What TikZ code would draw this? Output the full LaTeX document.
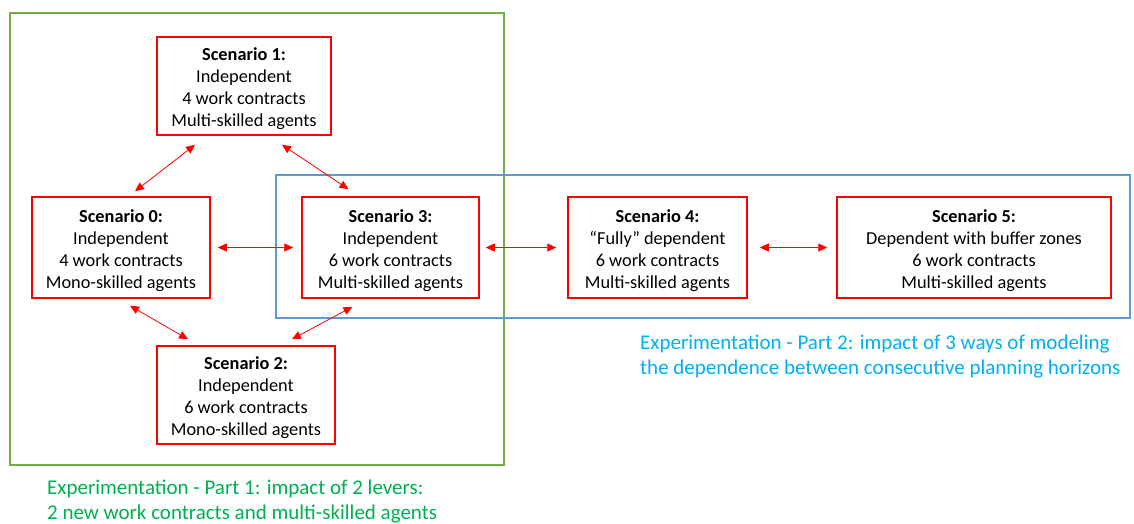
\documentclass[tikz,border=0pt]{standalone}
\usepackage{fontspec}
\setmainfont{Carlito}
\usetikzlibrary{arrows.meta}
\definecolor{boxred}{RGB}{255,0,0}
\definecolor{partgreen}{RGB}{112,173,71}
\definecolor{partblue}{RGB}{91,155,213}
\definecolor{textgreen}{RGB}{0,176,80}
\definecolor{textblue}{RGB}{0,176,240}
\begin{document}
\begin{tikzpicture}[x=1pt, y=-1pt,
    every node/.style={font=\fontsize{18.3}{22}\selectfont},
    scen/.style={draw=boxred, line width=1.5pt, align=center, inner sep=0pt},
    link/.style={{Triangle[length=9pt,width=8pt]}-{Triangle[length=9pt,width=8pt]}, boxred, line width=0.8pt},
    parttext/.style={anchor=west, align=left, inner sep=0pt, font=\fontsize{21}{25}\selectfont}]
    \useasboundingbox (0,0) rectangle (1134,523);

    % Part frames
    \draw[partgreen, line width=1.2pt] (10,13) rectangle (504,465);
    \draw[partblue, line width=1.2pt] (276,175) rectangle (1130,318);

    % Scenarios of part 1
    \node[scen, minimum width=174pt, minimum height=98pt] (s1) at (244,86)
      {\rule{0pt}{19pt}\textbf{Scenario 1:}\\ Independent\\ 4 work contracts\\ Multi-skilled agents};
    \node[scen, minimum width=178pt, minimum height=101pt] (s0) at (121,247.5)
      {\rule{0pt}{19pt}\textbf{Scenario 0:}\\ Independent\\ 4 work contracts\\ Mono-skilled agents};
    \node[scen, minimum width=178pt, minimum height=98pt] (s2) at (246,395)
      {\rule{0pt}{19pt}\textbf{Scenario 2:}\\ Independent\\ 6 work contracts\\ Mono-skilled agents};
    \node[scen, minimum width=177pt, minimum height=101pt] (s3) at (390.5,247.5)
      {\rule{0pt}{19pt}\textbf{Scenario 3:}\\ Independent\\ 6 work contracts\\ Multi-skilled agents};

    % Scenarios of part 2
    \node[scen, minimum width=179pt, minimum height=101pt] (s4) at (657.5,247.5)
      {\rule{0pt}{19pt}\textbf{Scenario 4:}\\ ``Fully'' dependent\\ 6 work contracts\\ Multi-skilled agents};
    \node[scen, minimum width=274pt, minimum height=101pt] (s5) at (974,247.5)
      {\rule{0pt}{19pt}\textbf{Scenario 5:}\\ Dependent with buffer zones\\ 6 work contracts\\ Multi-skilled agents};

    % Links
    \draw[link] ([xshift=-49pt,yshift=-9pt]s1.south) -- ([xshift=14pt,yshift=5pt]s0.north);
    \draw[link] ([xshift=38pt,yshift=-9pt]s1.south) -- ([xshift=-42pt,yshift=7pt]s3.north);
    \draw[link] ([xshift=7pt]s0.east) -- ([xshift=-8pt]s3.west);
    \draw[link] ([xshift=9pt,yshift=-7pt]s0.south) -- ([xshift=-58pt,yshift=6pt]s2.north);
    \draw[link] ([xshift=46pt,yshift=6pt]s2.north) -- ([xshift=-38pt,yshift=-8pt]s3.south);
    \draw[link] ([xshift=6pt]s3.east) -- ([xshift=-11pt]s4.west);
    \draw[link] ([xshift=12pt]s4.east) -- ([xshift=-9pt]s5.west);

    % Labels
    \node[parttext, text=textgreen] (part1) at (47,502)
      {Experimentation - Part 1: impact of 2 levers:\\ 2 new work contracts and multi-skilled agents};
    \node[parttext, text=textblue] (part2) at (640,357)
      {Experimentation - Part 2: impact of 3 ways of modeling\\ the dependence between consecutive planning horizons};
\end{tikzpicture}
\end{document}
